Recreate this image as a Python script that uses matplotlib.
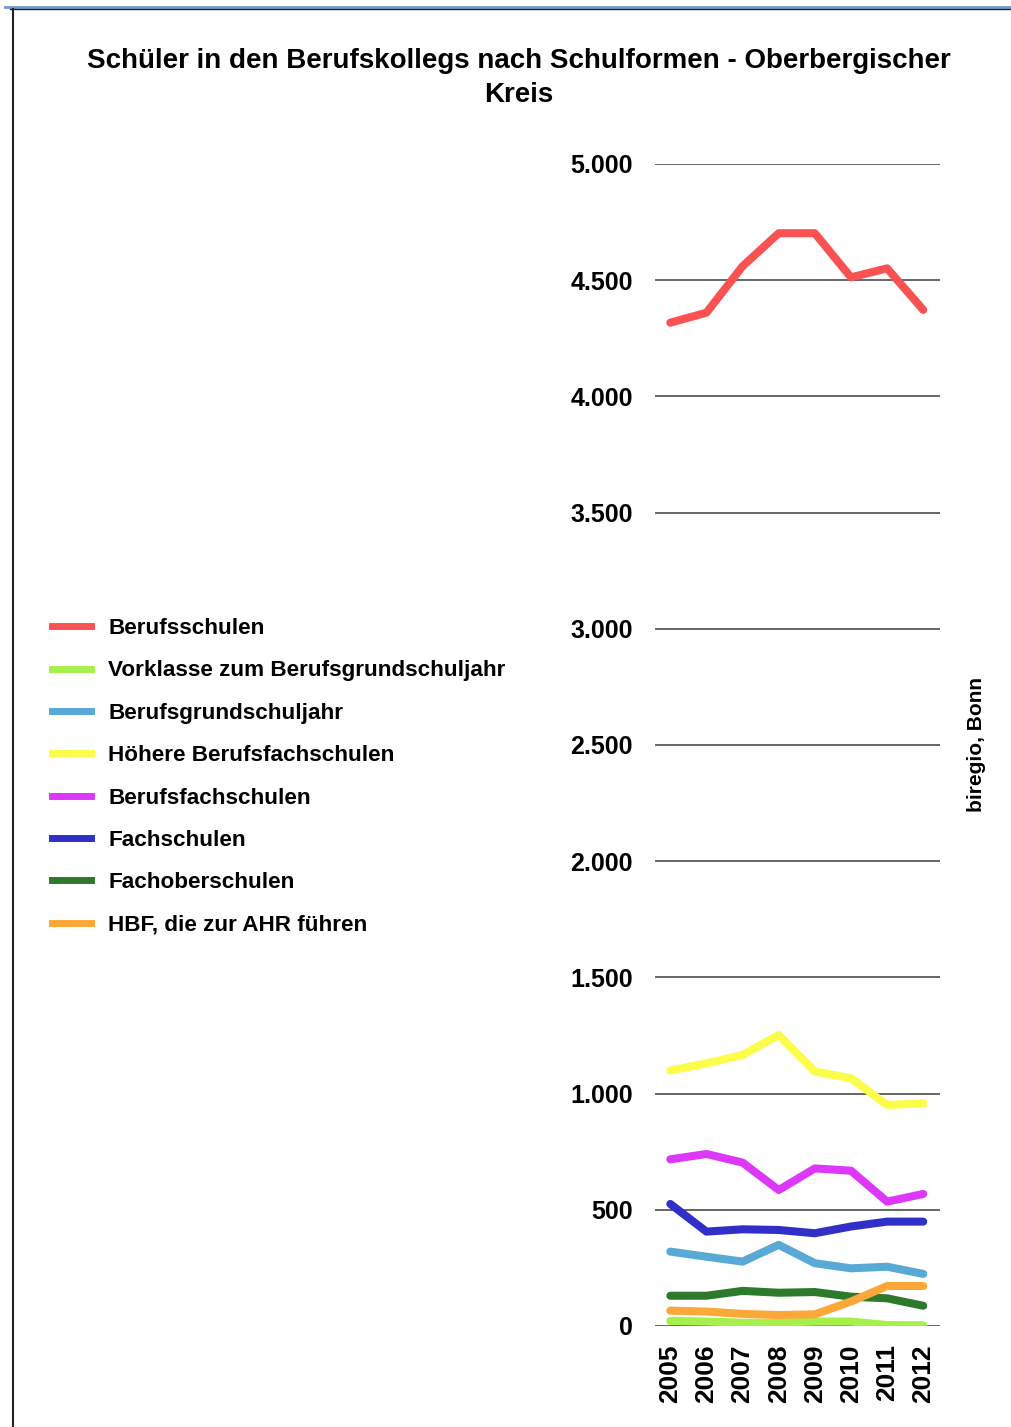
import matplotlib
matplotlib.use("Agg")
import matplotlib.pyplot as plt
from matplotlib.lines import Line2D
from matplotlib.ticker import FuncFormatter

plt.rcParams['font.family'] = ['Liberation Sans', 'DejaVu Sans']
plt.rcParams['font.weight'] = 'bold'

years = [2005, 2006, 2007, 2008, 2009, 2010, 2011, 2012]

berufsschulen = [4317, 4360, 4560, 4702, 4702, 4512, 4551, 4372]
vorklasse = [22, 19, 14, 14, 19, 19, 4, 3]
berufsgrundschuljahr = [320, 298, 277, 349, 270, 248, 255, 224]
hoehere_bfs = [1099, 1130, 1166, 1252, 1095, 1066, 951, 958]
berufsfachschulen = [717, 740, 703, 585, 678, 668, 535, 568]
fachschulen = [525, 406, 416, 413, 399, 428, 449, 449]
fachoberschulen = [130, 130, 151, 143, 146, 126, 119, 87]
hbf_ahr = [66, 62, 52, 47, 50, 105, 172, 172]

series = [
    ("Berufsschulen", berufsschulen, "#fa5252"),
    ("Vorklasse zum Berufsgrundschuljahr", vorklasse, "#a6f04c"),
    ("Berufsgrundschuljahr", berufsgrundschuljahr, "#58a9d6"),
    ("Höhere Berufsfachschulen", hoehere_bfs, "#fcfc4a"),
    ("Berufsfachschulen", berufsfachschulen, "#dd38fa"),
    ("Fachschulen", fachschulen, "#3030c8"),
    ("Fachoberschulen", fachoberschulen, "#2d7a2d"),
    ("HBF, die zur AHR führen", hbf_ahr, "#fca838"),
]

fig = plt.figure(figsize=(10.11, 14.27), dpi=100)
ax = fig.add_axes([0.648, 0.0708, 0.282, 0.8143])

for name, vals, col in series:
    ax.plot(years, vals, color=col, lw=5.8, solid_capstyle='round',
            solid_joinstyle='round', label=name)

ax.set_ylim(0, 5000)
ax.set_xlim(2004.58, 2012.47)
ax.set_yticks(range(0, 5001, 500))
ax.yaxis.set_major_formatter(FuncFormatter(lambda v, p: f"{int(v):,}".replace(",", ".")))
ax.set_xticks(years)
ax.set_xticklabels([str(y) for y in years], rotation=90)
ax.tick_params(axis='y', length=0, pad=16, labelsize=18)
ax.tick_params(axis='x', length=0, pad=13, labelsize=19)
for s in ax.spines.values():
    s.set_visible(False)
ax.grid(axis='y', color='#4d4d4d', lw=1.2)
ax.set_axisbelow(True)

fig.text(0.513, 1 - 78 / 1427, "Schüler in den Berufskollegs nach Schulformen - Oberbergischer\nKreis",
         ha='center', va='center', fontsize=20, fontweight='bold', linespacing=1.35)

fig.text(0.966, 0.478, "biregio, Bonn", rotation=90, ha='center', va='center', fontsize=15)

leg_handles = [Line2D([0], [0], color=c, lw=5) for _, _, c in series]
fig.legend(leg_handles, [n for n, _, _ in series], loc='upper left',
           bbox_to_anchor=(52 / 1011, 1 - 618 / 1427), frameon=False,
           fontsize=16.2, handlelength=1.75, handletextpad=0.75,
           labelspacing=0.95, borderpad=0, borderaxespad=0)

# page frame
fig.add_artist(Line2D([0.005, 1], [1 - 7 / 1427] * 2, color='#6f9bd1', lw=2))
fig.add_artist(Line2D([0.01, 1], [1 - 9 / 1427] * 2, color='#222222', lw=1))
fig.add_artist(Line2D([13 / 1011] * 2, [0, 1 - 9 / 1427], color='#222222', lw=1.5))

fig.savefig("out.png", dpi=100)
